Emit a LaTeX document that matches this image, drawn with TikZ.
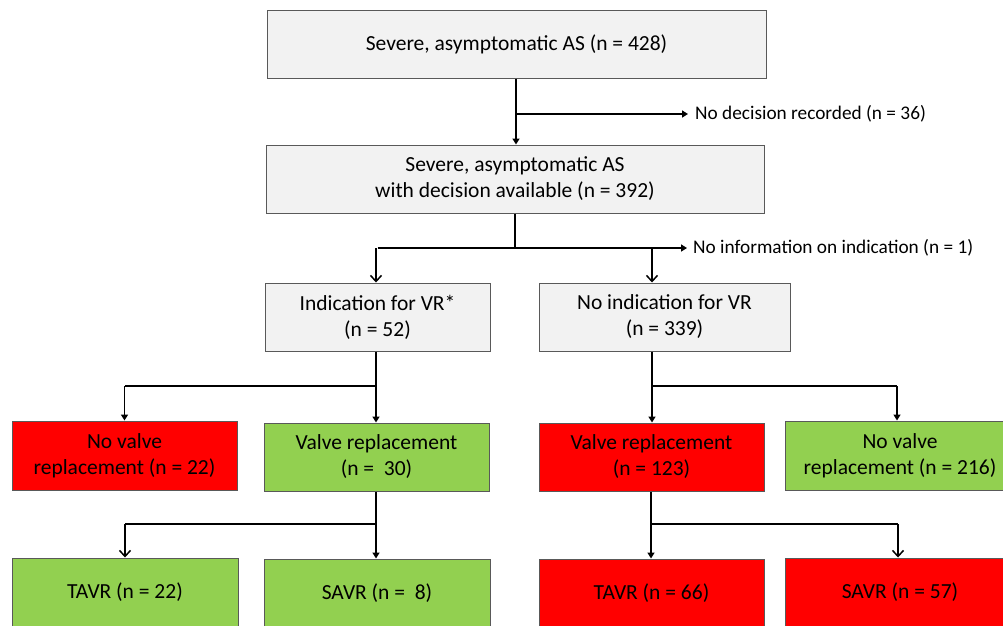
\documentclass[tikz,border=0pt]{standalone}
\usepackage{fontspec}
\setmainfont{Carlito}
\usetikzlibrary{arrows.meta}
\definecolor{boxgray}{HTML}{F2F2F2}
\definecolor{boxgreen}{HTML}{92D050}
\definecolor{boxred}{HTML}{FF0000}
\definecolor{edgegray}{HTML}{595959}
\tikzset{
  box/.style={draw=edgegray, line width=1pt, align=center, inner sep=0pt,
    font=\fontsize{21.5}{26}\selectfont, text=black},
  graybox/.style={box, fill=boxgray},
  greenbox/.style={box, fill=boxgreen},
  redbox/.style={box, fill=boxred},
  conn/.style={line width=1.5pt, black},
  arrfill/.style={conn, -{Triangle[length=6pt,width=7pt]}},
  arropen/.style={conn, -{Straight Barb[length=6pt,width=11pt]}},
  side/.style={font=\fontsize{19.3}{22}\selectfont, anchor=west, inner sep=0pt},
}
\begin{document}
\begin{tikzpicture}[x=1pt,y=-1pt]
\useasboundingbox (0,0) rectangle (1003,625);
\clip (0,0) rectangle (1003,625);
% nodes
\node[graybox, minimum width=499pt, minimum height=68pt] (top) at (516.5,44) {Severe, asymptomatic AS (n = 428)};
\node[graybox, minimum width=498pt, minimum height=68pt] (dec) at (515,179) {Severe, asymptomatic AS\\with decision available (n = 392)};
\node[side] (nodec) at (695,114) {No decision recorded (n = 36)};
\node[side] (noinfo) at (693,248) {No information on indication (n = 1)};
\node[graybox, minimum width=225pt, minimum height=68pt] (ind) at (377.5,317) {Indication for VR*\\(n = 52)};
\node[graybox, minimum width=251pt, minimum height=68pt] (noind) at (664.5,317) {No indication for VR\\(n = 339)};
\node[redbox, minimum width=225pt, minimum height=69pt] (nvr1) at (124.5,455.5) {No valve\\replacement (n = 22)};
\node[greenbox, minimum width=225pt, minimum height=68pt] (vr1) at (376.5,457) {Valve replacement\\(n = \ 30)};
\node[redbox, minimum width=225pt, minimum height=68pt] (vr2) at (651.5,457) {Valve replacement\\(n = 123)};
\node[greenbox, minimum width=230pt, minimum height=69pt] (nvr2) at (900,455.5) {No valve\\replacement (n = 216)};
\node[greenbox, minimum width=226pt, minimum height=68pt] (tavr1) at (125,592) {TAVR (n = 22)};
\node[greenbox, minimum width=226pt, minimum height=68pt] (savr1) at (377,593) {SAVR (n = \ 8)};
\node[redbox, minimum width=225pt, minimum height=68pt] (tavr2) at (651.5,593) {TAVR (n = 66)};
\node[redbox, minimum width=230pt, minimum height=68pt] (savr2) at (900,592) {SAVR (n = 57)};
% branch coordinates
\coordinate (j1) at (516,114);
\coordinate (e1) at (688,114);
\coordinate (j2) at (515,248);
\coordinate (e2) at (687,248);
\coordinate (j3) at (376,386);
\coordinate (j4) at (652,386);
\coordinate (j5) at (376,524);
\coordinate (j6) at (651,524);
% connectors
\draw[arrfill] (top.south -| j1) -- (dec.north -| j1);
\draw[arrfill] (j1) -- (e1);
\draw[conn] (dec.south -| j2) -- (j2);
\draw[conn] (j2 -| ind.north) -- (j2);
\draw[arrfill] (j2) -- (e2);
\draw[arropen] (j2 -| 376,0) -- (ind.north -| 376,0);
\draw[arropen] (j2 -| 652,0) -- (noind.north -| 652,0);
% left subtree
\draw[conn] (ind.south -| j3) -- (j3);
\draw[conn] (j3) -- (j3 -| nvr1.north);
\draw[arrfill] (j3 -| nvr1.north) -- (nvr1.north);
\draw[arrfill] (j3) -- (vr1.north -| j3);
\draw[conn] (vr1.south -| j5) -- (j5);
\draw[conn] (j5) -- (j5 -| tavr1.north);
\draw[arropen] (j5 -| tavr1.north) -- (tavr1.north);
\draw[arrfill] (j5) -- (savr1.north -| j5);
% right subtree
\draw[conn] (noind.south -| j4) -- (j4);
\draw[conn] (j4) -- (j4 -| 897,0);
\draw[arrfill] (j4) -- (vr2.north -| j4);
\draw[arrfill] (j4 -| 897,0) -- (nvr2.north -| 897,0);
\draw[conn] (vr2.south -| j6) -- (j6);
\draw[conn] (j6) -- (j6 -| 898,0);
\draw[arrfill] (j6) -- (tavr2.north -| j6);
\draw[arropen] (j6 -| 898,0) -- (savr2.north -| 898,0);
\end{tikzpicture}
\end{document}
